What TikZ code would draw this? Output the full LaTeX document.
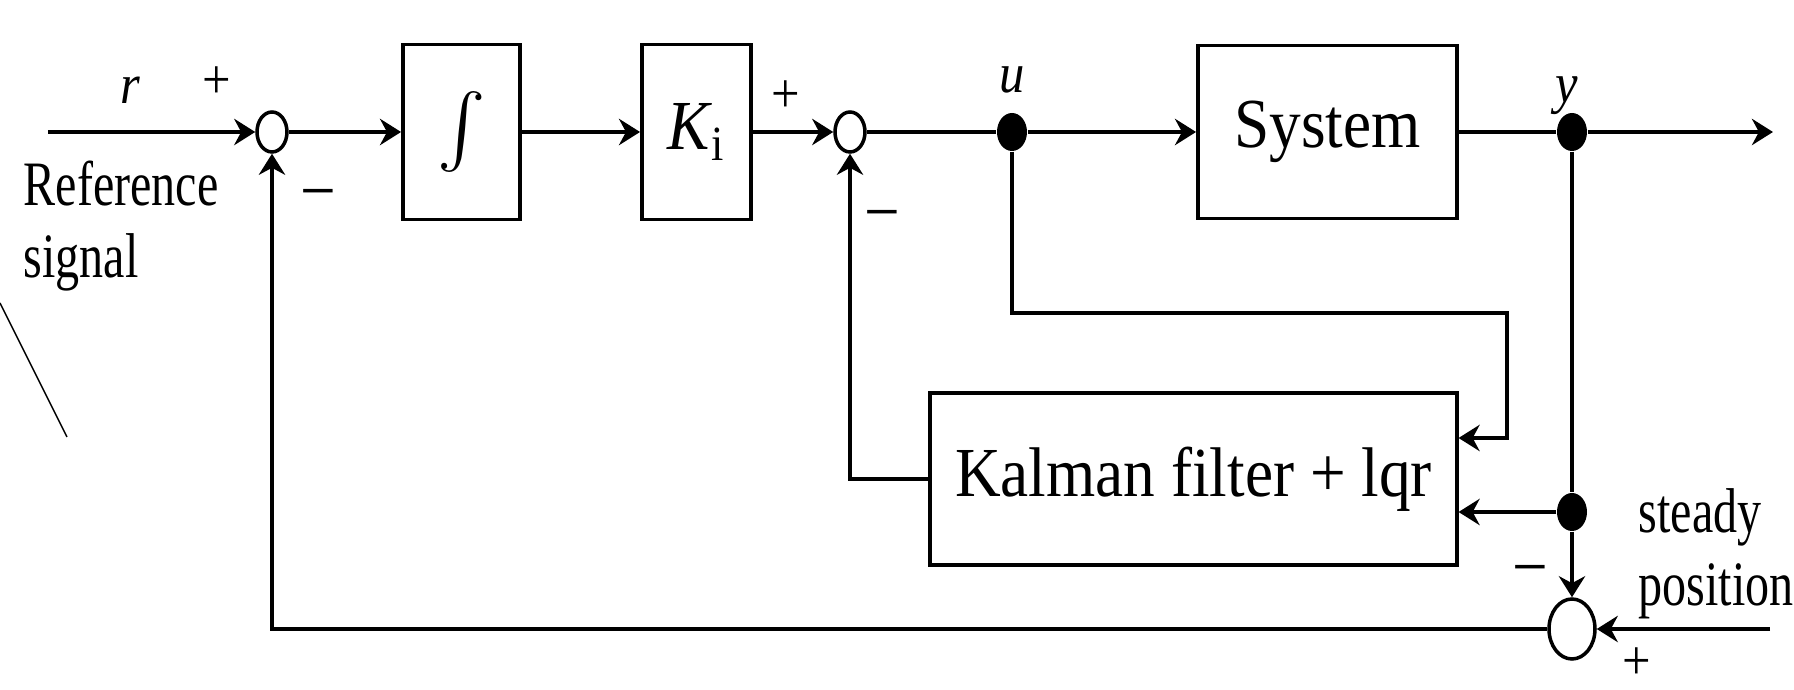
\documentclass[tikz,border=0pt]{standalone}
\usepackage{amsmath}
\usepackage{fontspec}
\setmainfont{Liberation Serif}[FakeStretch=0.9]
\newfontfamily\narrowfont{Liberation Serif}[FakeStretch=0.76]
\usepackage{tikz}
\usetikzlibrary{
	arrows.meta,
	calc,
	positioning,
	shapes.geometric
}

\tikzset{
	block/.style={draw, line width=1.1pt, inner sep=0pt, font=\fontsize{20}{24}\selectfont},
	sumpt/.style={draw, ellipse, line width=1pt, inner sep=0pt, minimum width=0.30cm, minimum height=0.40cm},
	branch/.style={fill, ellipse, inner sep=0pt, minimum width=0.30cm, minimum height=0.38cm},
	sig/.style={line width=1.1pt, -{Stealth[length=6pt, width=7.5pt, inset=2pt]}},
	wire/.style={line width=1.1pt},
	lbl/.style={inner sep=0pt, font=\fontsize{16}{19}\selectfont},
	sgn/.style={inner sep=0pt, font=\fontsize{20}{24}\selectfont},
	plus/.style={inner sep=0pt, font=\fontsize{16}{19}\selectfont},
	sidetxt/.style={inner sep=0pt, anchor=north west, align=left, font=\narrowfont\fontsize{18}{20.7}\selectfont}
}

\begin{document}
\begin{tikzpicture}
		\useasboundingbox (0,0) rectangle (17.94,6.90);
		% forward path
		\node[sumpt] (s1) at (2.72,5.58) {};
		\node[block, minimum width=1.17cm, minimum height=1.75cm] (int) at (4.615,5.58) {$\int$};
		\node[block, minimum width=1.09cm, minimum height=1.75cm] (Ki) at (6.965,5.58) {\textit{K}\textsubscript{i}};
		\node[sumpt] (s2) at (8.50,5.58) {};
		\node[branch] (bu) at (10.12,5.58) {};
		\node[block, minimum width=2.59cm, minimum height=1.73cm] (sys) at (13.275,5.58) {System};
		\node[branch] (by) at (15.72,5.58) {};
		\coordinate (rin) at (0.48,5.58);
		\coordinate (out) at (17.73,5.58);
		
		% estimator and error loop
		\node[block, line width=0.9pt, minimum width=5.27cm, minimum height=1.72cm] (kf) at (11.935,2.11) {Kalman filter + lqr};
		\node[branch] (bs) at (15.72,1.78) {};
		\node[sumpt, minimum width=0.46cm, minimum height=0.60cm] (s3) at (15.72,0.61) {};
		\coordinate (ucorner) at (15.07,3.77);
		\coordinate (pin) at (17.70,0.61);
		
		\draw[sig] (rin) -- (s1);
		\draw[sig] (s1) -- (int);
		\draw[sig] (int) -- (Ki);
		\draw[sig] (Ki) -- (s2);
		\draw[wire] (s2) -- (bu);
		\draw[sig] (bu) -- (sys);
		\draw[wire] (sys) -- (by);
		\draw[sig] (by) -- (out);
		\draw[sig, line width=0.9pt] (bu) |- (ucorner) |- ([yshift=0.41cm]kf.east);
		\draw[wire] (by) -- (bs);
		\draw[sig, line width=0.9pt] (bs) -- (kf.east |- bs);
		\draw[sig] (bs) -- (s3);
		\draw[sig] (pin) -- (s3);
		\draw[sig] (s3) -| (s1);
		\draw[sig] (kf.west) -| (s2);
		
		% signs and labels
		\node[lbl] (r) at (1.30,6.00) {\textit{r}};
		\node[lbl] (u) at (10.12,6.10) {\textit{u}};
		\node[lbl] (y) at (15.67,5.94) {\textit{y}};
		\node[plus] (p1) at (2.17,6.07) {+};
		\node[sgn] (m1) at (3.18,4.88) {−};
		\node[plus] (p2) at (7.86,5.93) {+};
		\node[sgn] (m2) at (8.82,4.67) {−};
		\node[sgn] (m3) at (15.30,1.12) {−};
		\node[plus] (p3) at (16.37,0.26) {+};
		\node[sidetxt] (refsig) at (0.23,5.30) {Reference\\signal};
		\node[sidetxt] (steady) at (16.38,2.02) {steady\\position};
		\draw[line width=0.4pt] (0,3.87) -- (0.67,2.53);
	\end{tikzpicture}
\end{document}
